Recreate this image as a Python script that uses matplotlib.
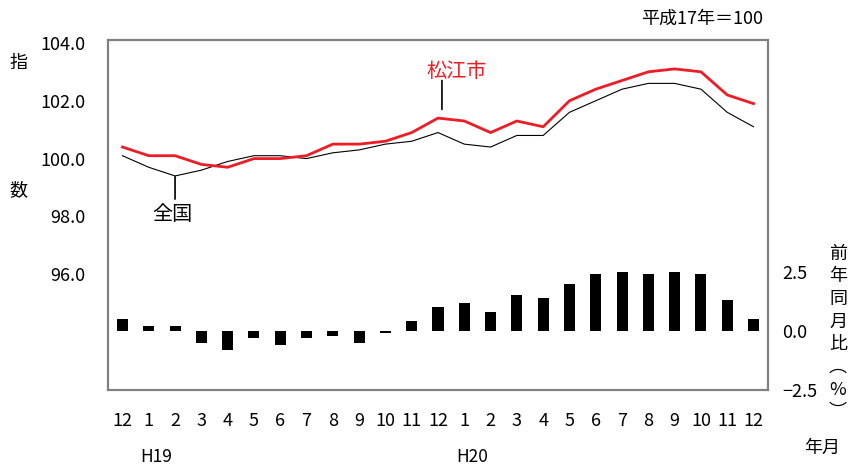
import matplotlib
matplotlib.use("Agg")
import matplotlib.pyplot as plt
import numpy as np

plt.rcParams["font.family"] = ["Noto Sans CJK JP", "DejaVu Sans"]

# H18/12 .. H20/12
months = ["12", "1", "2", "3", "4", "5", "6", "7", "8", "9", "10", "11",
          "12", "1", "2", "3", "4", "5", "6", "7", "8", "9", "10", "11", "12"]
matsue = [100.4, 100.1, 100.1, 99.8, 99.7, 100.0, 100.0, 100.1, 100.5, 100.5,
          100.6, 100.9, 101.4, 101.3, 100.9, 101.3, 101.1, 102.0, 102.4, 102.7,
          103.0, 103.1, 103.0, 102.2, 101.9]
national = [100.1, 99.7, 99.4, 99.6, 99.9, 100.1, 100.1, 100.0, 100.2, 100.3,
            100.5, 100.6, 100.9, 100.5, 100.4, 100.8, 100.8, 101.6, 102.0, 102.4,
            102.6, 102.6, 102.4, 101.6, 101.1]
yoy = [0.5, 0.2, 0.2, -0.5, -0.8, -0.3, -0.6, -0.3, -0.2, -0.5, -0.1, 0.4,
       1.0, 1.2, 0.8, 1.5, 1.4, 2.0, 2.4, 2.5, 2.4, 2.5, 2.4, 1.3, 0.5]
left_ticks = [96.0, 98.0, 100.0, 102.0, 104.0]
right_ticks = [-2.5, 0.0, 2.5]

x = np.arange(len(months))
red = "#ee1c25"
box = "#808080"

fig = plt.figure(figsize=(8.53, 4.66), dpi=100)
ax = fig.add_axes([108 / 853, 1 - 390 / 466, 660 / 853, 350 / 466])
ax2 = ax.twinx()

ax2.bar(x, yoy, width=0.42, color="black")
ax2.set_ylim(-2.45, 12.3)
ax2.set_yticks(right_ticks)
ax2.set_yticklabels([f"{v:.1f}".replace("-", "\u2212") for v in right_ticks])
ax2.tick_params(axis="y", length=0, pad=10, labelsize=13)

ax.plot(x, national, color="black", lw=0.8, zorder=3)
ax.plot(x, matsue, color=red, lw=2.0, zorder=4)
ax.set_zorder(ax2.get_zorder() + 1)
ax.patch.set_visible(False)

ax.set_xlim(-0.55, len(months) - 0.45)
ax.set_ylim(92.0, 104.1)
ax.set_yticks(left_ticks)
ax.set_yticklabels([f"{v:.1f}" for v in left_ticks])
ax.tick_params(axis="y", length=0, pad=16, labelsize=13)
ax.set_xticks(x)
ax.set_xticklabels(months)
ax.tick_params(axis="x", length=0, pad=16, labelsize=13)

for a in (ax, ax2):
    for s in a.spines.values():
        s.set_color(box)
        s.set_linewidth(1.5)

# leader lines and series labels
ax.annotate("", xy=(12.15, 101.7), xytext=(12.15, 102.7),
            arrowprops=dict(arrowstyle="-", color="black", lw=1.2,
                            shrinkA=0, shrinkB=0))
ax.text(12.7, 103.03, "松江市", color=red, fontsize=14.5,
        ha="center", va="center")
ax.annotate("", xy=(2, 99.38), xytext=(2, 98.6),
            arrowprops=dict(arrowstyle="-", color="black", lw=1.2,
                            shrinkA=0, shrinkB=0))
ax.text(1.9, 98.05, "全国", color="black", fontsize=14.5,
        ha="center", va="center")

# era labels
ax.text(1.3, -0.19, "H19", transform=ax.get_xaxis_transform(),
        ha="center", va="center", fontsize=12.5)
ax.text(13.3, -0.19, "H20", transform=ax.get_xaxis_transform(),
        ha="center", va="center", fontsize=12.5)

fig.text(18 / 853, 1 - 63 / 466, "指", fontsize=13, ha="center", va="center")
fig.text(18 / 853, 1 - 190 / 466, "数", fontsize=13, ha="center", va="center")
fig.text(763 / 853, 1 - 19 / 466, "平成17年＝100", fontsize=13,
         ha="right", va="center")
fig.text(838 / 853, 1 - 333 / 466, "前\n年\n同\n月\n比\n︵\n%\n︶",
         fontsize=13, ha="center", va="center", linespacing=1.33)
fig.text(822 / 853, 1 - 448 / 466, "年月", fontsize=13, ha="center", va="center")

fig.savefig("out.png", dpi=100)
